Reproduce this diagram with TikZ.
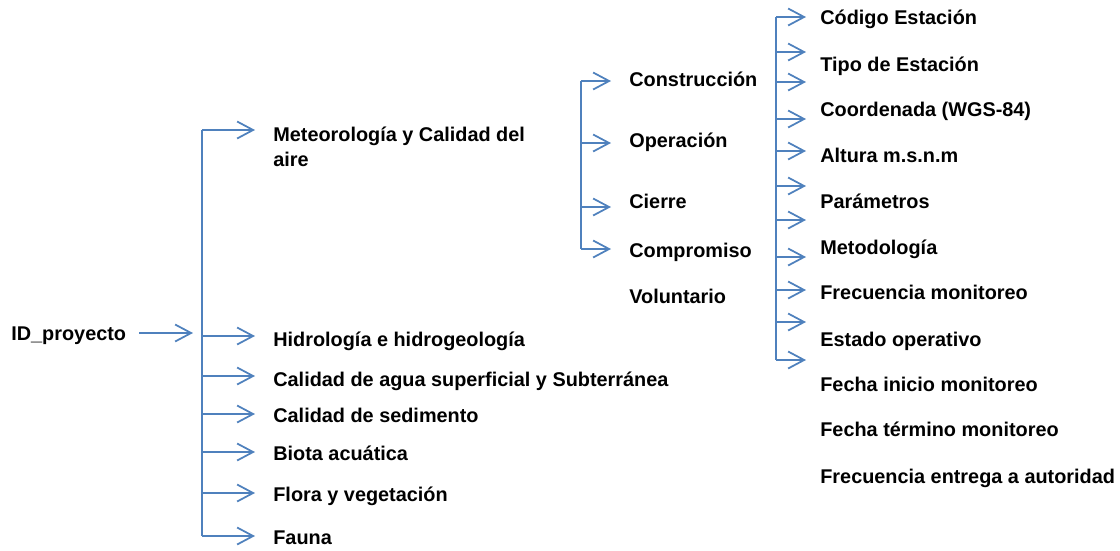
\documentclass[tikz,border=0pt]{standalone}
\usepackage{fontspec}
\setmainfont{Liberation Sans}
\usetikzlibrary{arrows.meta}
\definecolor{linkblue}{RGB}{79,129,189}
\tikzset{
  lbl/.style={font=\fontsize{11.3}{14.2}\selectfont\bfseries, anchor=west, inner sep=0pt, text height=8.2pt, text depth=2.4pt, yshift=-0.4mm},
  lbltwo/.style={font=\fontsize{11.3}{14.2}\selectfont\bfseries, anchor=west, inner sep=0pt, align=left, yshift=-0.4mm},
  link/.style={draw=linkblue, line width=1pt},
  tip/.style={link, -{Straight Barb[length=3.2mm,width=3.4mm]}}
}

\begin{document}
\begin{tikzpicture}[x=0.2mm,y=-0.2mm]
    \useasboundingbox (0,0) rectangle (1120,550);

    % Root
    \node[lbl] (id) at (11,333) {ID\_proyecto};
    \coordinate (idin) at (193,333);
    \draw[tip, shorten <=2.6mm] (id.east |- idin) -- (idin);

    % First level
    \coordinate (lt) at (202,130);
    \coordinate (lb) at (202,536);
    \draw[link] (lt) -- (lb);
    \node[lbltwo] (meteo) at (273,144.5) {Meteorología y Calidad del\\aire};
    \node[lbl] (hidro) at (273,339) {Hidrología e hidrogeología};
    \node[lbl] (agua) at (273,379) {Calidad de agua superficial y Subterránea};
    \node[lbl] (sedim) at (273,415) {Calidad de sedimento};
    \node[lbl] (biota) at (273,453) {Biota acuática};
    \node[lbl] (flora) at (273,494) {Flora y vegetación};
    \node[lbl] (fauna) at (273,537) {Fauna};
    \coordinate (meteoin) at (255,130);
    \coordinate (hidroin) at (255,336);
    \coordinate (aguain) at (255,376);
    \coordinate (sedimin) at (255,414);
    \coordinate (biotain) at (255,452);
    \coordinate (florain) at (255,493);
    \coordinate (faunain) at (255,536);
    \draw[tip] (lt |- meteoin) -- (meteoin);
    \draw[tip] (lt |- hidroin) -- (hidroin);
    \draw[tip] (lt |- aguain) -- (aguain);
    \draw[tip] (lt |- sedimin) -- (sedimin);
    \draw[tip] (lt |- biotain) -- (biotain);
    \draw[tip] (lt |- florain) -- (florain);
    \draw[tip] (lt |- faunain) -- (faunain);

    % Stages
    \coordinate (mt) at (581,81);
    \coordinate (mb) at (581,249);
    \draw[link] (mt) -- (mb);
    \node[lbl] (constr) at (629,79) {Construcción};
    \node[lbl] (oper) at (629,140) {Operación};
    \node[lbl] (cierre) at (629,201) {Cierre};
    \node[lbl] (compr) at (629,250) {Compromiso};
    \node[lbl] (volunt) at (629,296) {Voluntario};
    \coordinate (constrin) at (611,81);
    \coordinate (operin) at (611,143);
    \coordinate (cierrein) at (611,207);
    \coordinate (comprin) at (611,249);
    \draw[tip] (mt |- constrin) -- (constrin);
    \draw[tip] (mt |- operin) -- (operin);
    \draw[tip] (mt |- cierrein) -- (cierrein);
    \draw[tip] (mt |- comprin) -- (comprin);

    % Station attributes
    \coordinate (rt) at (776,17);
    \coordinate (rb) at (776,360);
    \draw[link] (rt) -- (rb);
    \node[lbl] (codigo) at (820,17) {Código Estación};
    \node[lbl] (tipo) at (820,64) {Tipo de Estación};
    \node[lbl] (coord) at (820,109) {Coordenada (WGS-84)};
    \node[lbl] (altura) at (820,155) {Altura m.s.n.m};
    \node[lbl] (param) at (820,201) {Parámetros};
    \node[lbl] (metod) at (820,247) {Metodología};
    \node[lbl] (frecmon) at (820,292) {Frecuencia monitoreo};
    \node[lbl] (estado) at (820,339) {Estado operativo};
    \node[lbl] (inicio) at (820,384) {Fecha inicio monitoreo};
    \node[lbl] (termino) at (820,429) {Fecha término monitoreo};
    \node[lbl] (entrega) at (820,476) {Frecuencia entrega a autoridad};
    \coordinate (r1) at (806,17);
    \coordinate (r2) at (806,52);
    \coordinate (r3) at (806,82);
    \coordinate (r4) at (806,119);
    \coordinate (r5) at (806,151);
    \coordinate (r6) at (806,186);
    \coordinate (r7) at (806,220);
    \coordinate (r8) at (806,257);
    \coordinate (r9) at (806,290);
    \coordinate (r10) at (806,322);
    \coordinate (r11) at (806,360);
    \draw[tip] (rt |- r1) -- (r1);
    \draw[tip] (rt |- r2) -- (r2);
    \draw[tip] (rt |- r3) -- (r3);
    \draw[tip] (rt |- r4) -- (r4);
    \draw[tip] (rt |- r5) -- (r5);
    \draw[tip] (rt |- r6) -- (r6);
    \draw[tip] (rt |- r7) -- (r7);
    \draw[tip] (rt |- r8) -- (r8);
    \draw[tip] (rt |- r9) -- (r9);
    \draw[tip] (rt |- r10) -- (r10);
    \draw[tip] (rt |- r11) -- (r11);

\end{tikzpicture}
\end{document}
